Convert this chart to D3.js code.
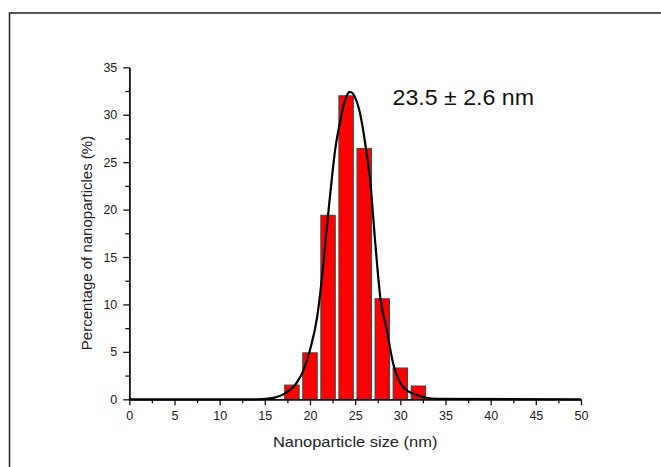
<!DOCTYPE html>
<html>
<head>
<meta charset="utf-8">
<script src="https://cdn.jsdelivr.net/npm/d3@7"></script>
<style>
  body { margin: 0; background: #fff; }
  svg { display: block; font-family: "Liberation Sans", Arial, sans-serif; }
</style>
</head>
<body>
<div id="chart"></div>
<script>
// histogram bins (centre of bin, nm) and percentages
const binCentres = [18, 20, 22, 24, 26, 28, 30, 32];
const percentages = [1.5, 4.9, 19.4, 32.0, 26.45, 10.6, 3.3, 1.4];

// fitted curve
const fitX = [0, 14, 15.6, 17.2, 18.5, 19.3, 20.0, 20.8, 21.3, 22.0, 22.4, 22.8, 23.3, 23.9, 24.45,
              25.0, 25.55, 26.2, 26.66, 27.2, 27.8, 28.5, 29.2, 30.3, 31.8, 34, 50];
const fitY = [0, 0, 0.1, 0.6, 1.7, 3.1, 5.2, 8.7, 12.6, 19.4, 23.1, 26.4, 29.1, 31.6, 32.4,
              31.8, 30.1, 26.4, 23.1, 16.8, 10.6, 7.3, 3.8, 1.3, 0.45, 0.05, 0];

const xTicks = [0, 5, 10, 15, 20, 25, 30, 35, 40, 45, 50];
const yTicks = [0, 5, 10, 15, 20, 25, 30, 35];
const minorX = d3.range(2.5, 50, 5);
const minorY = d3.range(2.5, 35, 5);

const binWidth = 2;
const barWidth = 1.6;
const fitLabel = "23.5 ± 2.6 nm";

const width = 661, height = 467;
const margin = { top: 67.3, right: 80, bottom: 67.7, left: 129.3 };

const svg = d3.select("#chart").append("svg")
    .attr("width", width)
    .attr("height", height);

// outer frame (runs off the right and bottom of the picture)
svg.append("rect")
    .attr("x", 9.5).attr("y", 13)
    .attr("width", 700).attr("height", 500)
    .attr("fill", "none")
    .attr("stroke", "#222")
    .attr("stroke-width", 1.5);

const x = d3.scaleLinear().domain([0, 50]).range([margin.left, width - margin.right]);
const y = d3.scaleLinear().domain([0, 35]).range([height - margin.bottom, margin.top]);

// bars
svg.append("g")
    .selectAll("rect")
    .data(binCentres)
    .join("rect")
    .attr("x", (d) => x(d - barWidth / 2))
    .attr("width", (d) => x(d + barWidth / 2) - x(d - barWidth / 2))
    .attr("y", (d, i) => y(percentages[i]))
    .attr("height", (d, i) => y(0) - y(percentages[i]))
    .attr("fill", "#ff0000")
    .attr("stroke", "#444")
    .attr("stroke-width", 1);

// axes
const styleAxis = (g) => {
    g.select(".domain").attr("stroke", "#111").attr("stroke-width", 1.5);
    g.selectAll(".tick line").attr("stroke", "#111").attr("stroke-width", 1.3);
    g.selectAll("text").attr("font-size", 12.5).attr("fill", "#222")
        .attr("font-family", "Liberation Sans, Arial, sans-serif");
};

svg.append("g")
    .attr("transform", `translate(0,${y(0)})`)
    .call(d3.axisBottom(x).tickValues(minorX).tickSize(4).tickFormat("").tickSizeOuter(0))
    .call(styleAxis);
svg.append("g")
    .attr("transform", `translate(0,${y(0)})`)
    .call(d3.axisBottom(x).tickValues(xTicks).tickSize(6).tickPadding(6).tickSizeOuter(0))
    .call(styleAxis);

svg.append("g")
    .attr("transform", `translate(${x(0)},0)`)
    .call(d3.axisLeft(y).tickValues(minorY).tickSize(4).tickFormat("").tickSizeOuter(0))
    .call(styleAxis);
svg.append("g")
    .attr("transform", `translate(${x(0)},0)`)
    .call(d3.axisLeft(y).tickValues(yTicks).tickSize(6).tickPadding(6).tickSizeOuter(0))
    .call(styleAxis);

// fitted curve
const line = d3.line()
    .x((d, i) => x(fitX[i]))
    .y((d) => y(d))
    .curve(d3.curveMonotoneX);

svg.append("path")
    .datum(fitY)
    .attr("d", line)
    .attr("fill", "none")
    .attr("stroke", "#000")
    .attr("stroke-width", 2.2);

// annotation
svg.append("text")
    .attr("x", 392.5)
    .attr("y", 105)
    .attr("font-size", 22)
    .attr("textLength", 141.5)
    .attr("lengthAdjust", "spacingAndGlyphs")
    .attr("fill", "#111")
    .text(fitLabel);

// axis titles
svg.append("text")
    .attr("x", (x(0) + x(50)) / 2)
    .attr("y", 446.5)
    .attr("text-anchor", "middle")
    .attr("font-size", 15)
    .attr("textLength", 164.5)
    .attr("lengthAdjust", "spacingAndGlyphs")
    .attr("fill", "#222")
    .text("Nanoparticle size (nm)");

svg.append("text")
    .attr("transform", "translate(92,243) rotate(-90)")
    .attr("text-anchor", "middle")
    .attr("font-size", 15)
    .attr("fill", "#222")
    .text("Percentage of nanoparticles (%)");
</script>
</body>
</html>
